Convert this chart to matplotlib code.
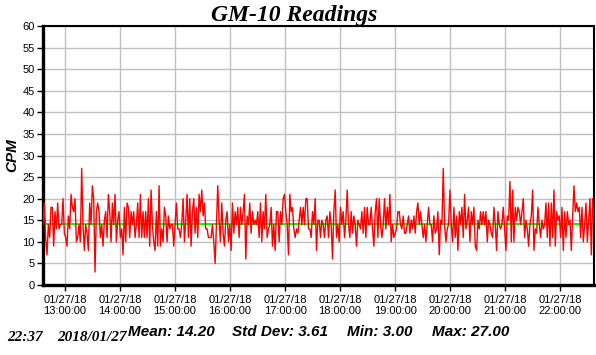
# GM-10 geiger counter readings, one evening of 01/27/18
import pandas as pd
import matplotlib
matplotlib.use("Agg")
import matplotlib.pyplot as plt
import matplotlib.dates as mdates

# readings (CPM) left to right
cpm_1 = [14, 19, 11, 7, 14, 11, 18, 18, 9, 17, 13, 19, 13, 14, 14, 20, 12, 11, 9, 16,
         13, 21, 18, 17, 20, 10, 11, 14, 10, 27, 14, 8, 14, 12, 8, 19, 14, 23, 20, 3,
         17, 19, 17, 11, 14, 9, 15, 17, 11, 21, 17, 10, 19, 14, 21, 10, 15, 17, 11, 13,
         7, 18, 10, 19, 18, 11, 17, 14, 17, 11, 14, 19, 11, 21, 11, 17]
cpm_2 = [11, 17, 11, 20, 9, 22, 14, 10, 8, 17, 9, 23, 9, 13, 10, 18, 16, 10, 16, 13,
         14, 14, 9, 14, 19, 13, 13, 11, 14, 20, 10, 15, 21, 11, 20, 9, 17, 20, 12, 18,
         11, 21, 17, 22, 16, 19, 13, 13, 11, 11, 11, 14, 10, 5, 14, 23, 15, 10, 19, 12,
         9, 15, 17, 10, 14, 8, 19, 12, 17, 14, 18, 11, 18, 14, 17, 21, 6, 16, 14, 19,
         12, 17, 14, 15]
cpm_3 = [14, 17, 11, 19, 10, 17, 13, 21, 11, 13, 14, 18, 9, 14, 8, 17, 17, 10, 17, 14,
         20, 21, 17, 14, 7, 21, 17, 18, 13, 11, 13, 12, 15, 18, 14, 18, 14, 20, 20, 13,
         13, 11, 17, 14, 20, 8, 15, 15, 11, 15, 14, 11, 15, 16, 11, 17, 14, 6, 17, 22,
         11, 14, 10, 18, 14, 17, 11, 15, 22, 14, 11, 17, 12, 16, 14, 9, 15, 14, 13, 17,
         12, 18, 11, 18, 14]
cpm_4 = [14, 18, 13, 9, 17, 20, 11, 20, 14, 11, 14, 20, 13, 18, 14, 21, 10, 14, 11, 12,
         13, 17, 17, 14, 13, 16, 12, 12, 14, 16, 12, 15, 13, 16, 12, 17, 19, 14, 17, 14,
         11, 14, 10, 14, 18, 14, 14, 10, 16, 12, 13, 17, 7, 15, 14, 27, 14, 10, 13, 14,
         22, 14, 10, 18, 11, 16, 8, 17, 14, 18, 11, 21, 13, 15, 18, 10, 17, 14, 18, 9,
         8, 15, 13, 17, 14]
cpm_5 = [17, 14, 17, 10, 15, 14, 12, 11, 18, 14, 8, 17, 14, 13, 14, 18, 13, 8, 16, 15,
         24, 10, 22, 10, 18, 15, 18, 17, 14, 17, 20, 11, 15, 13, 9, 14, 16, 22, 8, 13,
         12, 18, 14, 11, 15, 13, 14, 19, 11, 19, 9, 19, 11, 22, 9, 17, 15, 16, 11, 18,
         8, 17, 11, 17, 14, 15, 8, 16, 23, 17, 19, 17, 18, 11, 18, 10, 14, 19, 10, 15,
         20, 7, 20, 14]
cpm = cpm_1 + cpm_2 + cpm_3 + cpm_4 + cpm_5

t_start = "2018-01-27 12:36"
t_end = "2018-01-27 22:37"
hour_ticks = pd.date_range("2018-01-27 13:00", "2018-01-27 22:00", freq="h")

# summary as printed under the chart
mean_cpm = 14.20
std_cpm = 3.61
min_cpm = 3.00
max_cpm = 27.00
stamp_time = "22:37"
stamp_date = "2018/01/27"

times = pd.date_range(t_start, t_end, periods=len(cpm))

fig = plt.figure(figsize=(5.96, 3.55), dpi=100)
ax = fig.add_axes([43 / 596, 70 / 355, 551 / 596, 259 / 355])

ax.plot(times, cpm, color="#ff0000", lw=1.0, zorder=3)
ax.axhline(mean_cpm, color="#00ff00", lw=1.5, zorder=2)

ax.set_xlim(pd.Timestamp(t_start), pd.Timestamp(t_end))
ax.set_ylim(0, 60)
ax.set_yticks(range(0, 61, 5))
ax.set_xticks(hour_ticks)
ax.xaxis.set_major_formatter(mdates.DateFormatter("%m/%d/%y\n%H:%M:%S"))
ax.grid(True, color="#c0c0c0", lw=1.0, zorder=0)
ax.set_axisbelow(True)

for lab in ax.get_xticklabels() + ax.get_yticklabels():
    lab.set_family("Liberation Sans")
    lab.set_fontsize(8)
ax.tick_params(axis="both", direction="out", length=4, width=1, colors="black", pad=2)
ax.tick_params(axis="x", pad=3)

ax.spines["left"].set_linewidth(2.4)
ax.spines["bottom"].set_linewidth(2.4)
ax.spines["top"].set_linewidth(1.5)
ax.spines["right"].set_linewidth(1.5)

fig.text(294.5 / 596, 1 - 21 / 355, "GM-10 Readings", family="Liberation Serif",
         weight="bold", style="italic", fontsize=17, ha="center", va="baseline")
fig.text(12 / 596, 1 - 155 / 355, "CPM", family="Liberation Sans", weight="bold",
         style="italic", fontsize=11, rotation=90, ha="center", va="center")

# footer
fig.text(7 / 596, 1 - 341 / 355, stamp_time, family="Liberation Serif", weight="bold",
         style="italic", fontsize=11, va="baseline")
fig.text(57 / 596, 1 - 341 / 355, stamp_date, family="Liberation Serif", weight="bold",
         style="italic", fontsize=11, va="baseline")
stats = [("Mean: %.2f" % mean_cpm, 128), ("Std Dev: %.2f" % std_cpm, 232),
         ("Min: %.2f" % min_cpm, 347), ("Max: %.2f" % max_cpm, 432)]
for txt, xpos in stats:
    fig.text(xpos / 596, 1 - 336 / 355, txt, family="Liberation Sans", weight="bold",
             style="italic", fontsize=11, va="baseline")

fig.savefig("out.png", dpi=100)
